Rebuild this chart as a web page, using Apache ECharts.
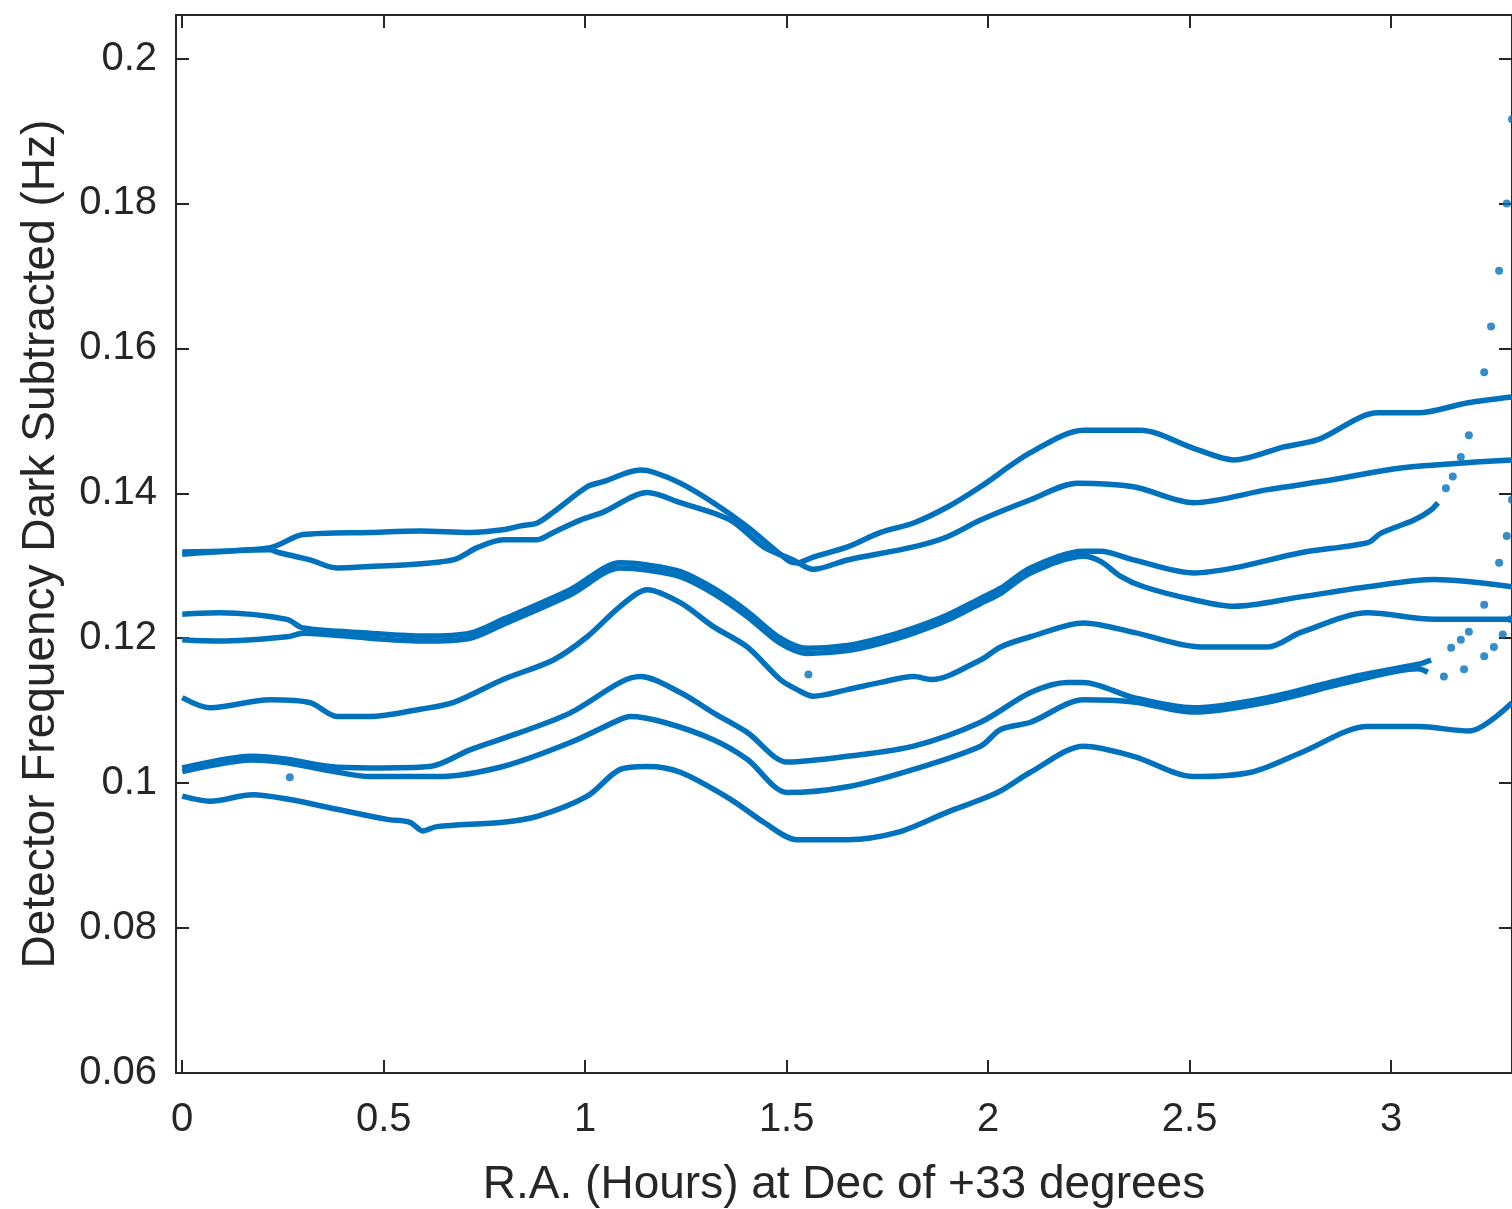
<!DOCTYPE html>
<html>
<head>
<meta charset="utf-8">
<title>Detector frequency drift scan</title>
<script src="https://cdn.jsdelivr.net/npm/echarts@6/dist/echarts.min.js"></script>
<style>
  html, body { margin: 0; padding: 0; background: #fff; }
  #chart { width: 1512px; height: 1209px; }
</style>
</head>
<body>
<div id="chart"></div>
<script>
// tick positions
const xTicks = [0, 0.5, 1, 1.5, 2, 2.5, 3]
const yTicks = [0.06, 0.08, 0.1, 0.12, 0.14, 0.16, 0.18, 0.2]

// one trace per night as [R.A. hours, Hz]
const lineA = [[0, 0.1319], [0.218, 0.1325], [0.30, 0.1343], [0.466, 0.1346], [0.59, 0.1348], [0.714, 0.1346], [0.80, 0.1350], [0.84, 0.1355], [0.881, 0.1359], [0.921, 0.1374], [1.005, 0.1409], [1.045, 0.1416], [1.137, 0.1432], [1.17, 0.1429], [1.236, 0.1414], [1.318, 0.1387], [1.402, 0.1354], [1.502, 0.1308], [1.526, 0.1304], [1.566, 0.1312], [1.651, 0.1326], [1.733, 0.1346], [1.815, 0.1359], [1.899, 0.1381], [1.981, 0.1409], [2.105, 0.1456], [2.237, 0.1487], [2.378, 0.1487], [2.51, 0.1462], [2.61, 0.1446], [2.734, 0.1464], [2.818, 0.1474], [2.967, 0.1511], [3.067, 0.1511], [3.191, 0.1525], [3.30, 0.1533]]
const lineB = [[0, 0.1316], [0.218, 0.1322], [0.235, 0.1319], [0.317, 0.1308], [0.384, 0.1297], [0.466, 0.1299], [0.548, 0.1301], [0.672, 0.1308], [0.732, 0.1325], [0.796, 0.1336], [0.881, 0.1336], [0.921, 0.1346], [0.988, 0.1363], [1.045, 0.1374], [1.154, 0.1401], [1.236, 0.1387], [1.36, 0.1363], [1.443, 0.1326], [1.516, 0.1308], [1.566, 0.1295], [1.651, 0.1308], [1.815, 0.1326], [1.899, 0.1340], [1.981, 0.1363], [2.105, 0.1391], [2.221, 0.1414], [2.361, 0.1409], [2.51, 0.1387], [2.694, 0.1405], [2.858, 0.1419], [3.024, 0.1435], [3.30, 0.1446]]
const lineR = [[0, 0.1233], [0.093, 0.1235], [0.26, 0.1226], [0.30, 0.1214], [0.466, 0.1207], [0.60, 0.1203], [0.714, 0.1207], [0.796, 0.1226], [0.963, 0.1267], [1.087, 0.1304], [1.154, 0.1301], [1.236, 0.1292], [1.318, 0.1269], [1.402, 0.1237], [1.484, 0.1200], [1.551, 0.1186], [1.651, 0.1190], [1.733, 0.1200], [1.815, 0.1214], [1.899, 0.1232], [1.981, 0.1255], [2.031, 0.1269], [2.105, 0.1297], [2.237, 0.1320], [2.279, 0.1320], [2.361, 0.1308], [2.51, 0.1290], [2.61, 0.1297], [2.776, 0.1318], [2.942, 0.1332], [2.975, 0.1345], [3.057, 0.1363], [3.099, 0.1377], [3.116, 0.1387]]
const tailR = [[3.136, 0.1407], [3.153, 0.1423], [3.173, 0.1450], [3.193, 0.1480], [3.231, 0.1567], [3.248, 0.1630], [3.268, 0.1707], [3.287, 0.1800], [3.300, 0.1916]]
const lineC = [[0, 0.1198], [0.093, 0.1196], [0.26, 0.1202], [0.30, 0.1207], [0.466, 0.1200], [0.60, 0.1196], [0.714, 0.1200], [0.796, 0.1219], [0.963, 0.1260], [1.087, 0.1297], [1.154, 0.1294], [1.236, 0.1285], [1.318, 0.1262], [1.402, 0.1230], [1.484, 0.1193], [1.551, 0.1179], [1.651, 0.1183], [1.733, 0.1193], [1.815, 0.1207], [1.899, 0.1225], [1.981, 0.1248], [2.031, 0.1262], [2.105, 0.1290], [2.237, 0.1313], [2.279, 0.1306], [2.33, 0.1285], [2.386, 0.1271], [2.51, 0.1253], [2.61, 0.1244], [2.776, 0.1257], [2.942, 0.1271], [3.106, 0.1281], [3.30, 0.1271]]
const lineD = [[0, 0.1118], [0.069, 0.1104], [0.218, 0.1115], [0.317, 0.1111], [0.384, 0.1092], [0.466, 0.1092], [0.59, 0.1102], [0.672, 0.1111], [0.796, 0.1143], [0.921, 0.1170], [1.005, 0.1202], [1.087, 0.1244], [1.154, 0.1267], [1.236, 0.1249], [1.318, 0.1216], [1.402, 0.1188], [1.484, 0.1143], [1.526, 0.1129], [1.566, 0.1120], [1.651, 0.1129], [1.733, 0.1139], [1.815, 0.1147], [1.86, 0.1143], [1.981, 0.1170], [2.031, 0.1188], [2.105, 0.1202], [2.237, 0.1221], [2.361, 0.1208], [2.527, 0.1188], [2.694, 0.1188], [2.776, 0.1208], [2.942, 0.1235], [3.106, 0.1226], [3.30, 0.1226]]
const lineE = [[0, 0.1021], [0.175, 0.1037], [0.26, 0.1033], [0.367, 0.1023], [0.466, 0.1021], [0.615, 0.1023], [0.714, 0.1046], [0.839, 0.1070], [0.963, 0.1097], [1.087, 0.1139], [1.137, 0.1147], [1.236, 0.1125], [1.318, 0.1097], [1.402, 0.1070], [1.502, 0.1029], [1.651, 0.1037], [1.815, 0.1051], [1.981, 0.1084], [2.105, 0.1125], [2.197, 0.1139], [2.237, 0.1139], [2.361, 0.1118], [2.51, 0.1104], [2.694, 0.1118], [2.9, 0.1146], [3.067, 0.1164], [3.099, 0.1170]]
const tailE = [[3.149, 0.1187], [3.173, 0.1198], [3.193, 0.1209], [3.231, 0.1246], [3.268, 0.1304], [3.287, 0.1341], [3.300, 0.1391]]
const lineG = [[0, 0.1016], [0.175, 0.1032], [0.26, 0.1028], [0.367, 0.1017], [0.466, 0.1009], [0.548, 0.1009], [0.632, 0.1009], [0.796, 0.1023], [0.963, 0.1056], [1.087, 0.1088], [1.112, 0.1092], [1.195, 0.1084], [1.318, 0.1060], [1.402, 0.1033], [1.502, 0.0987], [1.651, 0.0995], [1.815, 0.1019], [1.981, 0.1051], [2.031, 0.1074], [2.105, 0.1084], [2.237, 0.1115], [2.361, 0.1112], [2.51, 0.1098], [2.694, 0.1112], [2.9, 0.1140], [3.067, 0.1158], [3.091, 0.1153]]
const tailG = [[3.131, 0.1147], [3.181, 0.1157], [3.231, 0.1175], [3.255, 0.1188], [3.277, 0.1205], [3.297, 0.1226]]
const lineF = [[0, 0.0982], [0.069, 0.0975], [0.175, 0.0984], [0.26, 0.0978], [0.384, 0.0964], [0.508, 0.0950], [0.565, 0.0946], [0.597, 0.0934], [0.632, 0.0940], [0.796, 0.0946], [0.881, 0.0954], [1.005, 0.0982], [1.087, 0.1019], [1.154, 0.1023], [1.236, 0.1015], [1.36, 0.0978], [1.443, 0.0946], [1.526, 0.0922], [1.651, 0.0922], [1.775, 0.0932], [1.899, 0.0960], [2.023, 0.0987], [2.105, 0.1015], [2.237, 0.1051], [2.361, 0.1037], [2.51, 0.1009], [2.652, 0.1015], [2.776, 0.1042], [2.942, 0.1078], [3.067, 0.1078], [3.193, 0.1072], [3.30, 0.1111]]
const strays = [[0.267, 0.1008], [1.554, 0.1150]]

const blue = '#0072BD'
const ink = '#262626'
const font = '"Liberation Sans", Arial, Helvetica, sans-serif'

const chart = echarts.init(document.getElementById('chart'), null, { renderer: 'canvas' })

const lines = [lineA, lineB, lineR, lineC, lineD, lineE, lineG, lineF].map(d => ({
  type: 'line',
  data: d,
  symbol: 'none',
  smooth: 0.3,
  silent: true,
  lineStyle: { color: blue, width: 5.5 }
}))

const dots = [tailR, tailE, tailG, strays].map(d => ({
  type: 'scatter',
  data: d,
  symbolSize: 8,
  silent: true,
  itemStyle: { color: blue }
}))

const axisLine = { show: true, onZero: false, lineStyle: { color: ink, width: 2 } }
const fmt = v => String(+(+v).toFixed(2))

chart.setOption({
  animation: false,
  backgroundColor: '#fff',
  // keep the plot box where it is, names may sit near the page edge
  grid: { left: 176, right: 0, top: 15, bottom: 136, outerBoundsMode: 'none' },
  xAxis: [
    {
      type: 'value', position: 'bottom', min: -0.0155, max: 3.3,
      axisLine,
      axisTick: { show: true, inside: true, length: 13, customValues: xTicks, lineStyle: { color: ink, width: 2 } },
      axisLabel: { customValues: xTicks, formatter: fmt, fontSize: 40, color: ink, fontFamily: font, margin: 27 },
      splitLine: { show: false },
      name: 'R.A. (Hours) at Dec of +33 degrees',
      nameLocation: 'middle',
      nameGap: 89,
      nameTextStyle: { fontSize: 46, color: ink, fontFamily: font }
    },
    {
      type: 'value', position: 'top', min: -0.0155, max: 3.3,
      axisLine,
      axisTick: { show: true, inside: true, length: 13, customValues: xTicks, lineStyle: { color: ink, width: 2 } },
      axisLabel: { show: false },
      splitLine: { show: false }
    }
  ],
  yAxis: [
    {
      type: 'value', position: 'left', min: 0.06, max: 0.206,
      axisLine,
      axisTick: { show: true, inside: true, length: 13, customValues: yTicks, lineStyle: { color: ink, width: 2 } },
      axisLabel: { customValues: yTicks, formatter: fmt, fontSize: 40, color: ink, fontFamily: font, margin: 19 },
      splitLine: { show: false },
      name: 'Detector Frequency Dark Subtracted (Hz)',
      nameLocation: 'middle',
      nameGap: 112,
      nameTextStyle: { fontSize: 46, color: ink, fontFamily: font }
    },
    {
      type: 'value', position: 'right', min: 0.06, max: 0.206,
      axisLine,
      axisTick: { show: true, inside: true, length: 13, customValues: yTicks, lineStyle: { color: ink, width: 2 } },
      axisLabel: { show: false },
      splitLine: { show: false }
    }
  ],
  series: [...lines, ...dots]
})
</script>
</body>
</html>
